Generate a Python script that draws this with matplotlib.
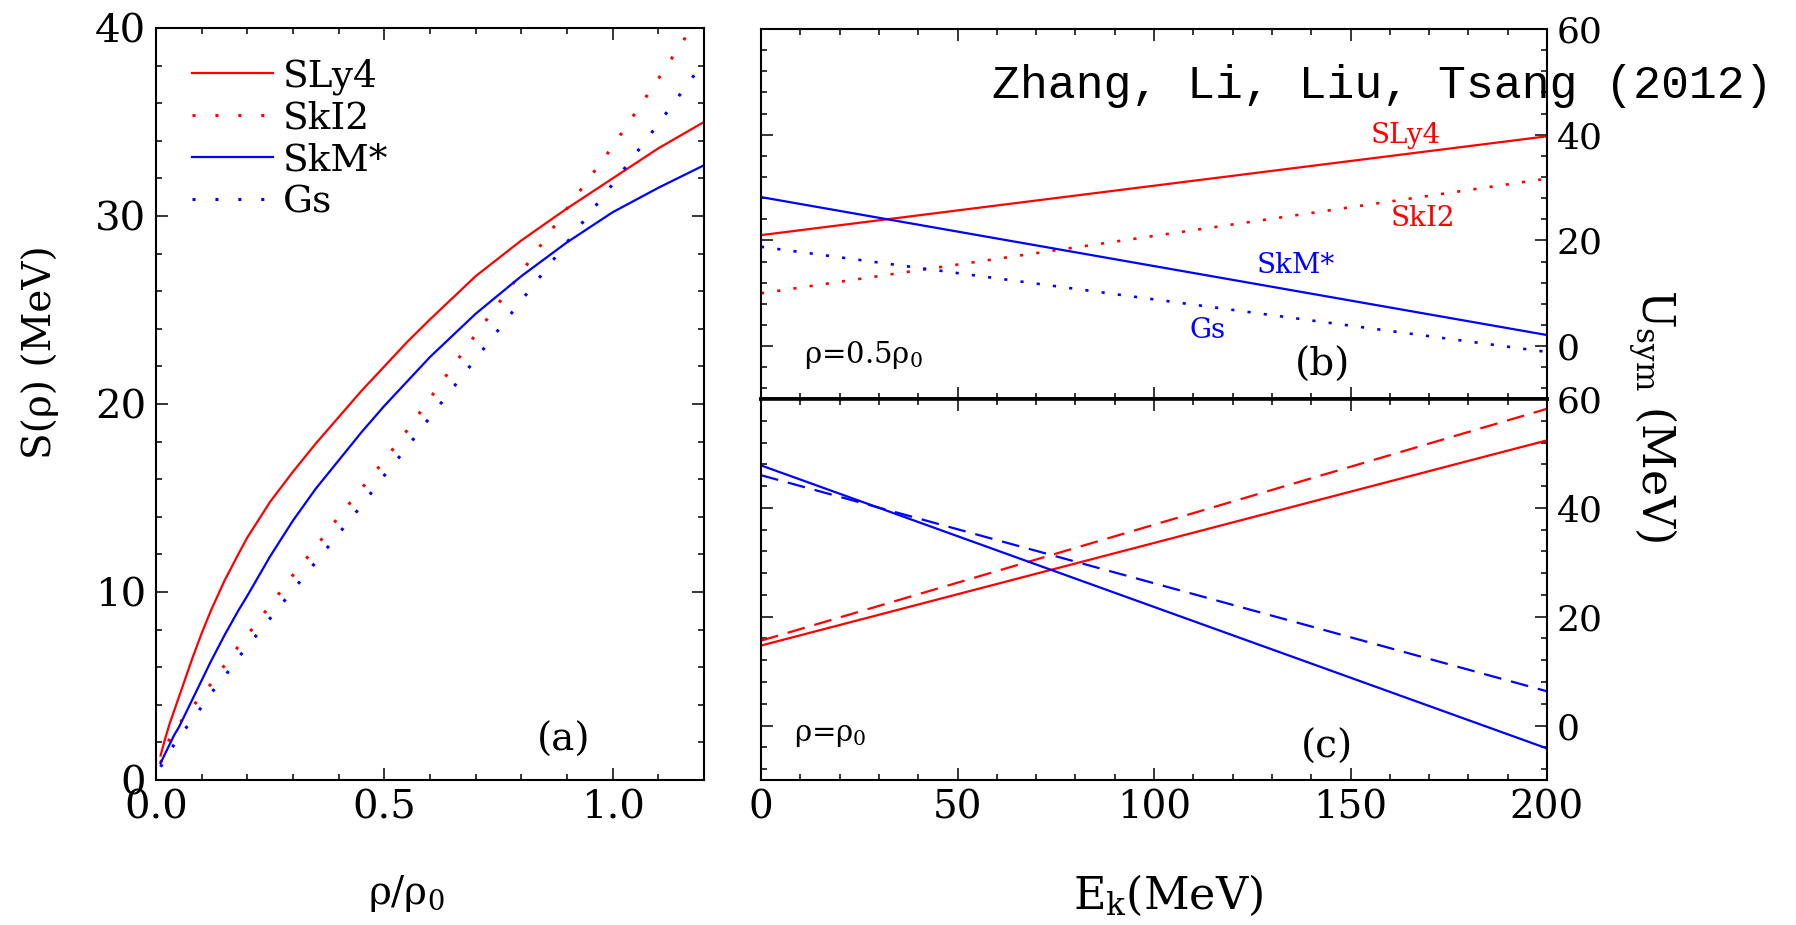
import matplotlib
matplotlib.use('Agg')
import matplotlib.pyplot as plt
from matplotlib.ticker import MultipleLocator, FixedLocator

plt.rcParams['font.family'] = 'DejaVu Serif'
plt.rcParams['mathtext.fontset'] = 'dejavuserif'

# ---------------- data ----------------
rho = [0.01, 0.02, 0.03, 0.04, 0.05, 0.06, 0.08, 0.1, 0.12, 0.15, 0.18, 0.2, 0.25,
       0.3, 0.35, 0.4, 0.45, 0.5, 0.55, 0.6, 0.7, 0.8, 0.9, 1.0, 1.1, 1.2]
S_SLy4 = [1.3, 2.2, 3.0, 3.7, 4.4, 5.1, 6.5, 7.8, 9.0, 10.6, 12.0, 12.9, 14.8,
          16.4, 17.9, 19.3, 20.7, 22.0, 23.3, 24.5, 26.8, 28.7, 30.4, 32.0, 33.6, 35.0]
S_SkI2 = [0.9, 1.6, 2.2, 2.6, 2.95, 3.3, 3.9, 4.5, 5.1, 6.1, 7.1, 7.7, 9.3,
          10.9, 12.4, 14.0, 15.5, 17.0, 18.6, 20.3, 23.7, 27.0, 30.4, 33.7, 37.3, 41.0]
S_SkMs = [0.9, 1.4, 1.9, 2.4, 2.8, 3.3, 4.3, 5.3, 6.3, 7.7, 9.0, 9.8, 11.9,
          13.8, 15.5, 17.0, 18.5, 19.9, 21.2, 22.5, 24.8, 26.8, 28.6, 30.2, 31.5, 32.7]
S_Gs = [0.7, 1.1, 1.5, 1.9, 2.2, 2.6, 3.2, 3.9, 4.6, 5.5, 6.5, 7.1, 8.6,
        10.1, 11.6, 13.1, 14.6, 16.2, 17.7, 19.3, 22.4, 25.5, 28.6, 31.7, 34.9, 38.2]

Ek = [0, 200]
# panel (b): rho = 0.5 rho0
Ub_SLy4 = [21.0, 39.7]
Ub_SkI2 = [10.0, 31.7]
Ub_SkMs = [28.2, 2.1]
Ub_Gs = [18.8, -1.1]
# panel (c): rho = rho0
Uc_SLy4 = [14.7, 52.4]
Uc_SkI2 = [15.6, 58.2]
Uc_SkMs = [47.8, -4.2]
Uc_Gs = [46.0, 6.3]

names = ['SLy4', 'SkI2', 'SkM*', 'Gs']
RED, BLUE = '#ff0000', '#0000ff'

W, H = 1796, 925
fig = plt.figure(figsize=(W / 100, H / 100), dpi=100)


def box(l, t, r, b):
    return [l / W, 1 - b / H, (r - l) / W, (b - t) / H]


axa = fig.add_axes(box(156, 28, 704, 780))
axb = fig.add_axes(box(761, 29, 1547, 399))
axc = fig.add_axes(box(761, 399, 1547, 780))

DOT_A = (0, (1, 6.5))
DOT_B = (0, (1.2, 5))
DASH = (0, (8, 4.5))


def style(ax, lsize):
    ax.tick_params(which='both', direction='in', top=True, right=True,
                   width=1.1, color='black', labelsize=lsize, pad=7)
    ax.tick_params(which='major', length=8.5)
    ax.tick_params(which='minor', length=4.3)
    for s in ax.spines.values():
        s.set_linewidth(1.5)


# ---------------- panel (a) ----------------
axa.plot(rho, S_SLy4, color=RED, lw=1.6, label=names[0])
axa.plot(rho, S_SkI2, color=RED, lw=2.2, ls=DOT_A, label=names[1])
axa.plot(rho, S_SkMs, color=BLUE, lw=1.6, label=names[2])
axa.plot(rho, S_Gs, color=BLUE, lw=2.2, ls=DOT_A, label=names[3])
axa.set_xlim(0, 1.2)
axa.set_ylim(0, 40)
axa.xaxis.set_major_locator(FixedLocator([0.0, 0.5, 1.0]))
axa.set_xticklabels(['0.0', '0.5', '1.0'])
axa.xaxis.set_minor_locator(MultipleLocator(0.1))
axa.yaxis.set_major_locator(MultipleLocator(10))
axa.yaxis.set_minor_locator(MultipleLocator(2))
style(axa, 29)
axa.text(0.893, 2.1, '(a)', fontsize=28, ha='center', va='center')
leg = axa.legend(loc='upper left', bbox_to_anchor=(0.066, 0.96), frameon=False,
                 fontsize=27, handlelength=2.15, handletextpad=0.26,
                 labelspacing=0.16, borderpad=0, borderaxespad=0)

# ---------------- panel (b) ----------------
axb.plot(Ek, Ub_SLy4, color=RED, lw=1.6)
axb.plot(Ek, Ub_SkI2, color=RED, lw=1.9, ls=DOT_B)
axb.plot(Ek, Ub_SkMs, color=BLUE, lw=1.6)
axb.plot(Ek, Ub_Gs, color=BLUE, lw=1.9, ls=DOT_B)
axb.text(164, 39.9, names[0], color=RED, fontsize=20, ha='center', va='center')
axb.text(168.5, 24.2, names[1], color=RED, fontsize=20, ha='center', va='center')
axb.text(136, 15.3, names[2], color=BLUE, fontsize=20, ha='center', va='center')
axb.text(113.7, 3.0, names[3], color=BLUE, fontsize=20, ha='center', va='center')
axb.text(11, -1.7, 'ρ=0.5ρ$_0$', fontsize=21, ha='left', va='center')
axb.text(143, -3.6, '(b)', fontsize=28, ha='center', va='center')

# ---------------- panel (c) ----------------
axc.plot(Ek, Uc_SLy4, color=RED, lw=1.6)
axc.plot(Ek, Uc_SkI2, color=RED, lw=1.6, ls=DASH)
axc.plot(Ek, Uc_SkMs, color=BLUE, lw=1.6)
axc.plot(Ek, Uc_Gs, color=BLUE, lw=1.6, ls=DASH)
axc.text(8.4, -1.8, 'ρ=ρ$_0$', fontsize=21, ha='left', va='center')
axc.text(144, -4.0, '(c)', fontsize=28, ha='center', va='center')

for ax in (axb, axc):
    ax.set_xlim(0, 200)
    ax.set_ylim(-10, 60)
    ax.xaxis.set_major_locator(MultipleLocator(50))
    ax.xaxis.set_minor_locator(MultipleLocator(10))
    ax.yaxis.set_major_locator(FixedLocator([0, 20, 40, 60]))
    ax.yaxis.set_minor_locator(MultipleLocator(4))
    style(ax, 26)
    ax.tick_params(labelleft=False, labelright=True)
axb.tick_params(labelbottom=False)
axc.tick_params(axis='x', labelsize=28)
axb.spines['bottom'].set_linewidth(2.6)
axc.spines['top'].set_linewidth(2.6)

# ---------------- figure labels ----------------
fig.text(40 / W, 1 - 352 / H, 'S(ρ) (MeV)', rotation=90, fontsize=28,
         ha='center', va='center')
fig.text(406 / W, 1 - 893 / H, 'ρ/ρ$_0$', fontsize=28, ha='center', va='center')
fig.text(1168 / W, 1 - 895 / H, r'E$_{\mathrm{k}}$(MeV)', fontsize=32,
         ha='center', va='center')
fig.text(1652 / W, 1 - 416 / H, r'U$_{\rm sym}$ (MeV)', rotation=-90, fontsize=32,
         ha='center', va='center')
fig.text(1773 / W, 1 - 98 / H, 'Zhang, Li, Liu, Tsang (2012)', family='Liberation Mono',
         fontsize=33.5, ha='right', va='baseline', zorder=10)

fig.savefig('out.png', dpi=100)
